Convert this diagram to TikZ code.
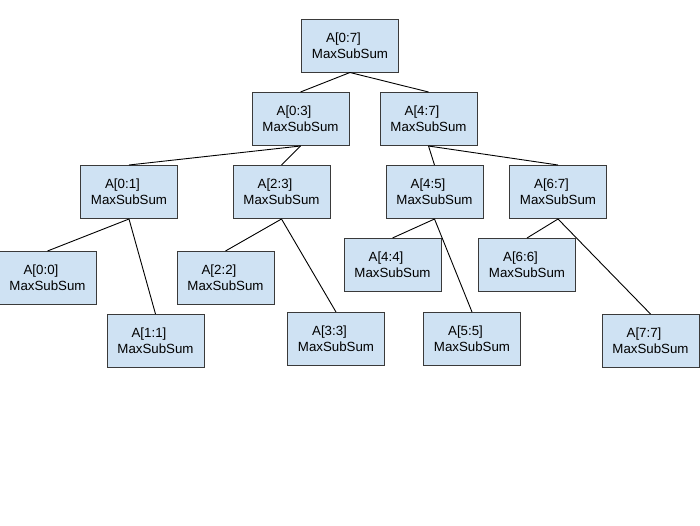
\documentclass[tikz,border=0pt]{standalone}
\usepackage{fontspec}
\setmainfont{Liberation Sans}
\definecolor{boxfill}{HTML}{CFE2F3}
\definecolor{boxline}{HTML}{3A3A3A}
\newcommand{\lbl}[1]{#1\hspace*{13pt}\\MaxSubSum}
\begin{document}
\begin{tikzpicture}[x=1pt,y=-1pt,
  treebox/.style={draw=boxline,fill=boxfill,line width=1pt,minimum width=97pt,minimum height=53pt,
    inner sep=0pt,align=center,font=\fontsize{13.3}{16}\selectfont},
  edge/.style={draw=black,line width=0.9pt}]
\useasboundingbox (0,0) rectangle (700,525);
\fill[white] (0,0) rectangle (700,525);
\node[treebox] (n07) at (350,45.5) {\lbl{A[0:7]}};
\node[treebox] (n03) at (300.5,119) {\lbl{A[0:3]}};
\node[treebox] (n47) at (428.5,119) {\lbl{A[4:7]}};
\node[treebox] (n01) at (129,192) {\lbl{A[0:1]}};
\node[treebox] (n23) at (281.5,192) {\lbl{A[2:3]}};
\node[treebox] (n45) at (434.5,192) {\lbl{A[4:5]}};
\node[treebox] (n67) at (558,192) {\lbl{A[6:7]}};
\node[treebox] (n00) at (47.5,278) {\lbl{A[0:0]}};
\node[treebox] (n11) at (155.5,341) {\lbl{A[1:1]}};
\node[treebox] (n22) at (225.5,278) {\lbl{A[2:2]}};
\node[treebox] (n33) at (336,339) {\lbl{A[3:3]}};
\node[treebox] (n44) at (392.5,265) {\lbl{A[4:4]}};
\node[treebox] (n55) at (472,339) {\lbl{A[5:5]}};
\node[treebox] (n66) at (527,265) {\lbl{A[6:6]}};
\node[treebox] (n77) at (650.5,341) {\lbl{A[7:7]}};
\draw[edge] (n07.south) -- (n03.north);
\draw[edge] (n07.south) -- (n47.north);
\draw[edge] (n03.south) -- (n01.north);
\draw[edge] (n03.south) -- (n23.north);
\draw[edge] (n47.south) -- (n45.north);
\draw[edge] (n47.south) -- (n67.north);
\draw[edge] (n01.south) -- (n00.north);
\draw[edge] (n01.south) -- (n11.north);
\draw[edge] (n23.south) -- (n22.north);
\draw[edge] (n23.south) -- (n33.north);
\draw[edge] (n45.south) -- (n44.north);
\draw[edge] (n45.south) -- (n55.north);
\draw[edge] (n67.south) -- (n66.north);
\draw[edge] (n67.south) -- (n77.north);
\end{tikzpicture}
\end{document}
